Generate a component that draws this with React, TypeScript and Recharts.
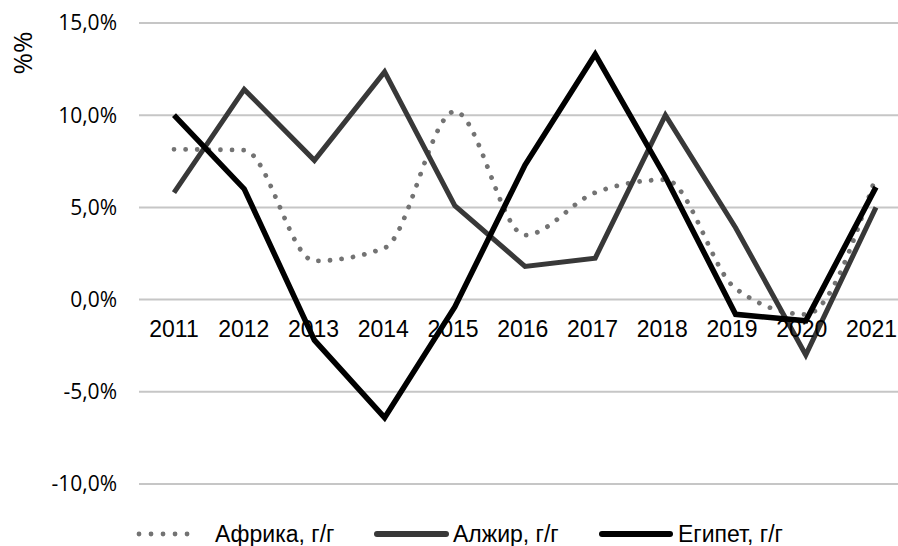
import React from 'react';
import { LineChart, Line, XAxis, YAxis, CartesianGrid } from 'recharts';

const years = ['2011', '2012', '2013', '2014', '2015', '2016', '2017', '2018', '2019', '2020', '2021'];
const africa = [8.15, 8.1, 2.1, 2.8, 10.2, 3.5, 5.8, 6.5, 0.6, -0.8, 6.7];
const algeria = [5.8, 11.4, 7.55, 12.35, 5.1, 1.8, 2.25, 10.0, 3.9, -3.0, 5.0];
const egypt = [10.0, 6.0, -2.2, -6.4, -0.4, 7.3, 13.3, 6.65, -0.8, -1.15, 6.1];
const yTicks = [-10, -5, 0, 5, 10, 15];
const seriesNames = ['Африка, г/г', 'Алжир, г/г', 'Египет, г/г'];
const yLabel = '%%';

const data = years.map((y, i) => ({ year: y, africa: africa[i], algeria: algeria[i], egypt: egypt[i] }));

const CHART_W = 911;
const CHART_H = 546;
const MARGIN_TOP = 23;
const X_AXIS_H = 20;
const MARGIN_BOTTOM = 42;
const PLOT_H = CHART_H - MARGIN_TOP - MARGIN_BOTTOM - X_AXIS_H;
const Y_MIN = -10;
const Y_MAX = 15;
const ZERO_Y = MARGIN_TOP + (PLOT_H * Y_MAX) / (Y_MAX - Y_MIN);

const fmt = (v: number) => `${v.toFixed(1).replace('.', ',')}%`;

const renderXTick = (props: any) => {
  const { x, payload, index } = props;
  return (
    <text
      key={`xt-${index}`}
      x={x}
      dx={-0.45 * index}
      y={ZERO_Y + 37}
      textAnchor="middle"
      fontSize={23}
      fontFamily="'Liberation Sans', Arial, sans-serif"
      fill="#000"
    >
      {payload.value}
    </text>
  );
};

export default function App() {
  return (
    <div style={{ position: 'absolute', left: 0, top: 0, width: 898, height: 546, overflow: 'hidden', background: '#fff' }}>
      <LineChart width={CHART_W} height={CHART_H} data={data} margin={{ top: MARGIN_TOP, right: 0, bottom: MARGIN_BOTTOM, left: 0 }}>
        <CartesianGrid vertical={false} stroke="#c6c6c6" strokeWidth={2} />
        <XAxis
          dataKey="year"
          height={X_AXIS_H}
          axisLine={false}
          tickLine={false}
          interval={0}
          padding={{ left: 35, right: 35 }}
          tick={renderXTick}
        />
        <YAxis
          width={139}
          domain={[Y_MIN, Y_MAX]}
          ticks={yTicks}
          axisLine={false}
          tickLine={false}
          tickSize={0}
          tickMargin={22}
          tickFormatter={fmt}
          tick={{ fontSize: 21, fill: '#000', fontFamily: "'Open Sans', sans-serif" }}
        />
        <Line
          dataKey="africa"
          type="monotone"
          stroke="#737373"
          strokeWidth={4.8}
          strokeDasharray="0.01 11.6"
          strokeLinecap="round"
          dot={false}
          isAnimationActive={false}
        />
        <Line dataKey="algeria" type="linear" stroke="#383838" strokeWidth={5} dot={false} isAnimationActive={false} />
        <Line dataKey="egypt" type="linear" stroke="#000" strokeWidth={5.5} dot={false} isAnimationActive={false} />
      </LineChart>
      <svg width={898} height={546} style={{ position: 'absolute', left: 0, top: 0, pointerEvents: 'none' }}>
        <text
          x={22}
          y={53}
          transform="rotate(-90 22 53)"
          textAnchor="middle"
          dominantBaseline="central"
          fontSize={26}
          fontFamily="'Open Sans', sans-serif"
          fill="#000"
        >
          {yLabel}
        </text>
        <g fontFamily="'Liberation Sans', Arial, sans-serif" fontSize={23} fill="#000">
          <line x1={139} y1={534} x2={198} y2={534} stroke="#737373" strokeWidth={4.8} strokeDasharray="0.01 12" strokeLinecap="round" />
          <text x={215} y={542}>{seriesNames[0]}</text>
          <line x1={377} y1={534} x2={446} y2={534} stroke="#383838" strokeWidth={6} strokeLinecap="round" />
          <text x={453} y={542}>{seriesNames[1]}</text>
          <line x1={602} y1={534} x2={670} y2={534} stroke="#000" strokeWidth={6} strokeLinecap="round" />
          <text x={678} y={542}>{seriesNames[2]}</text>
        </g>
      </svg>
    </div>
  );
}
